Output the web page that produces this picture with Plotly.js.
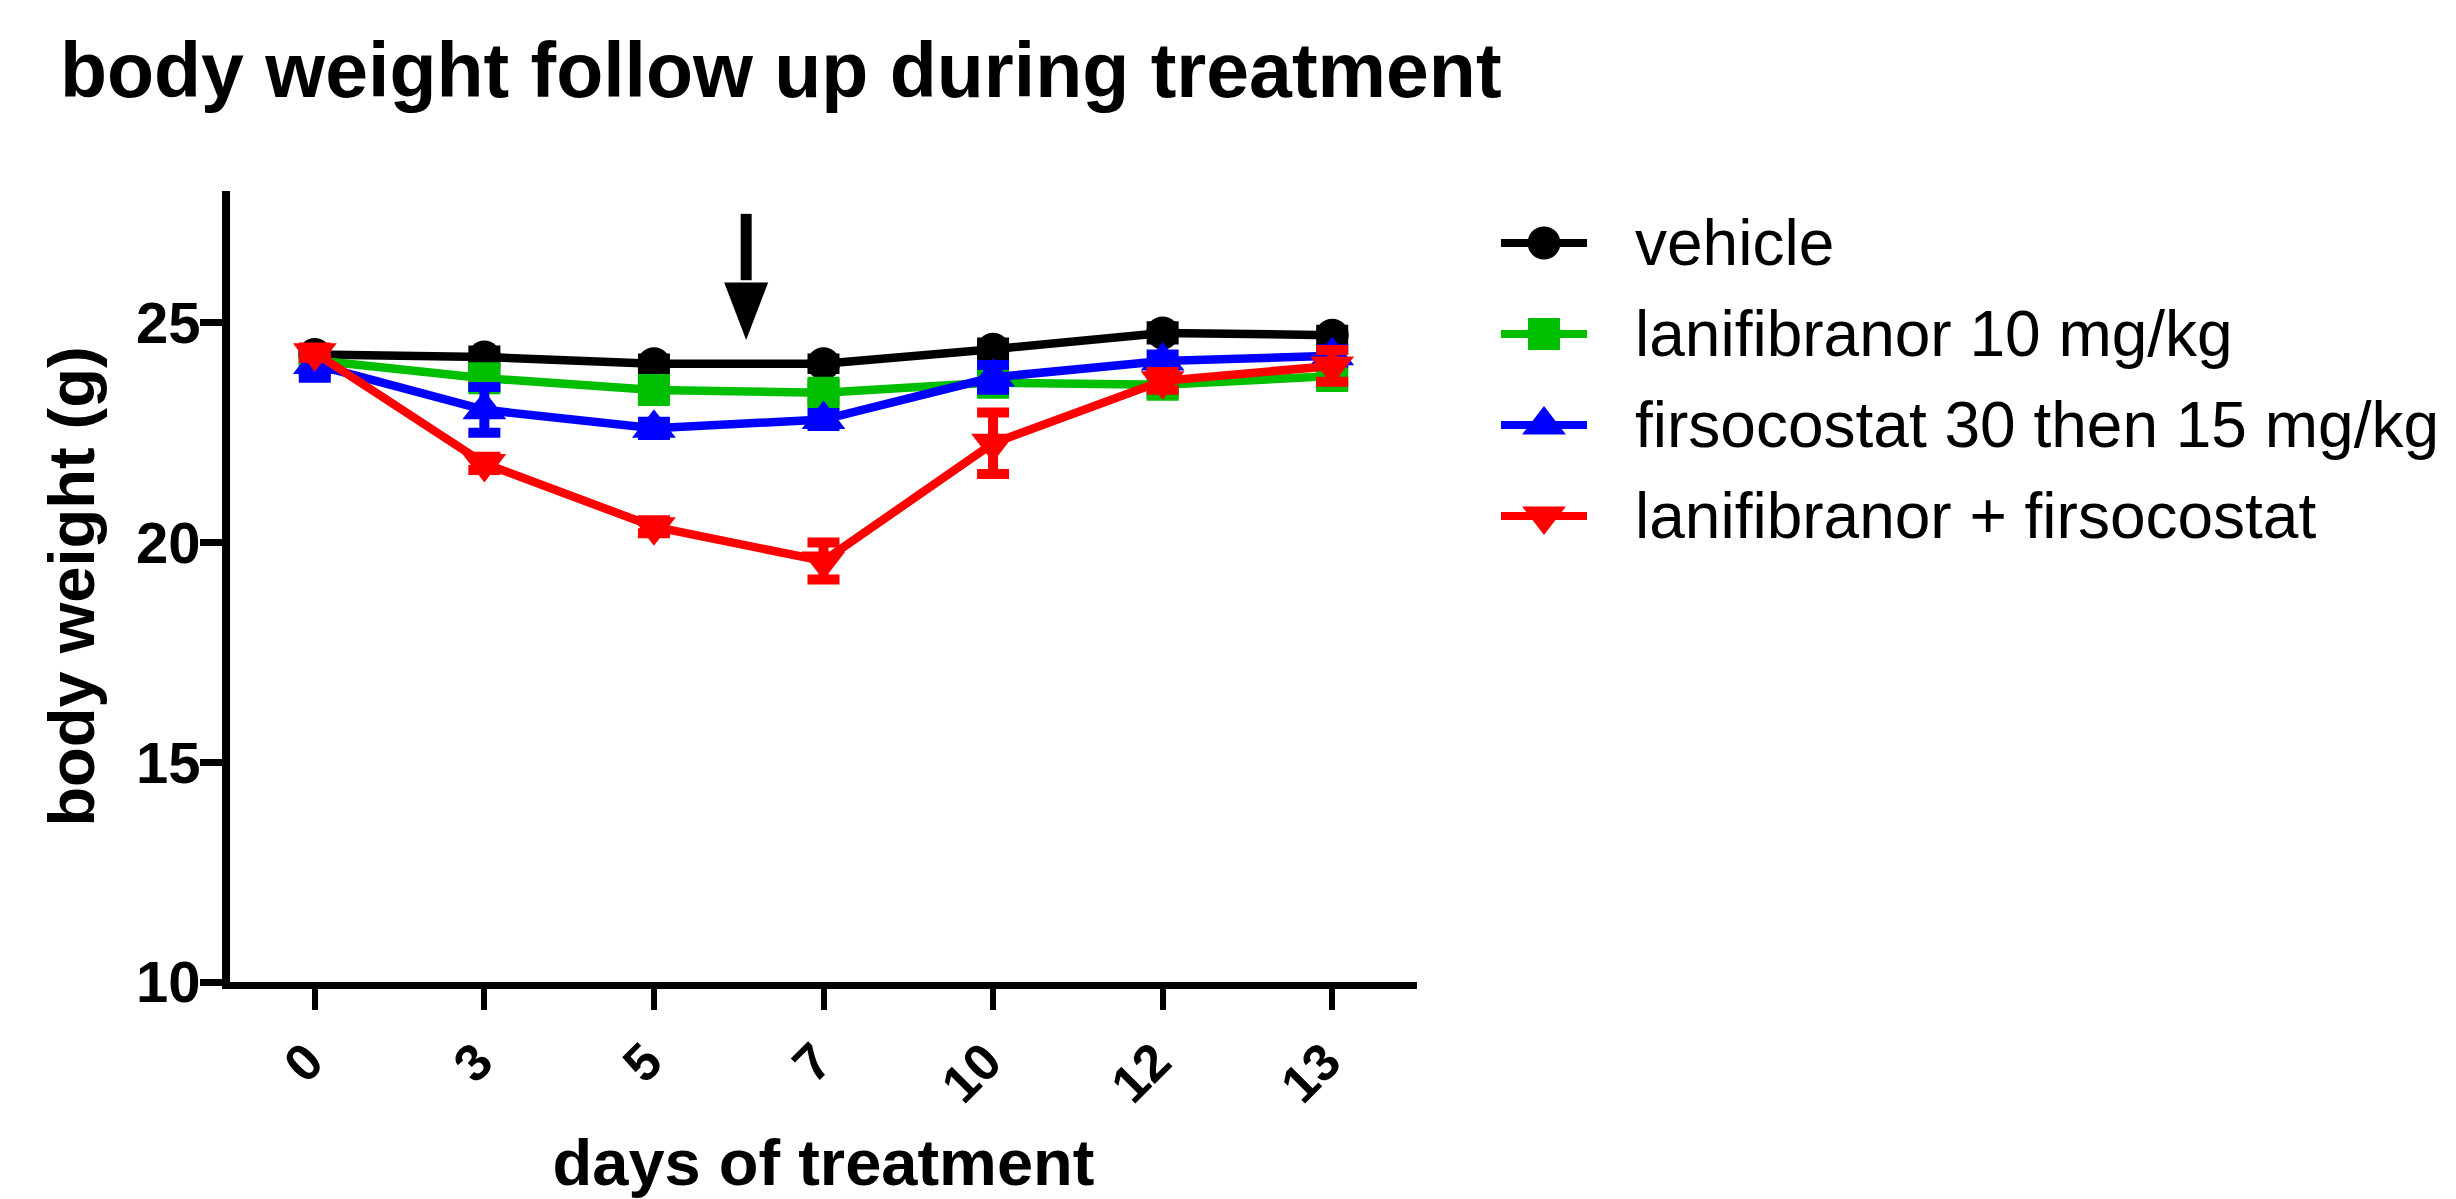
<!DOCTYPE html>
<html>
<head>
<meta charset="utf-8">
<script src="https://cdn.plot.ly/plotly-3.0.1.min.js"></script>
<style>
  html, body { margin: 0; padding: 0; background: #ffffff; }
  #chart { width: 2456px; height: 1199px; }
</style>
</head>
<body>
<div id="chart"></div>
<script>
// ---------------- data ----------------
const days = ['0', '3', '5', '7', '10', '12', '13'];

const vehicle        = [24.28, 24.22, 24.07, 24.07, 24.40, 24.77, 24.72];
const vehicleErr     = [0.10, 0.15, 0.12, 0.12, 0.15, 0.15, 0.12];

const lanifibranor    = [24.15, 23.74, 23.47, 23.41, 23.64, 23.59, 23.79];
const lanifibranorErr = [0.15, 0.20, 0.20, 0.20, 0.25, 0.20, 0.20];

const firsocostat    = [24.05, 23.02, 22.60, 22.80, 23.76, 24.13, 24.25];
const firsocostatErr = [0.30, 0.52, 0.15, 0.15, 0.28, 0.15, 0.15];

const combination    = [24.32, 21.80, 20.36, 19.58, 22.26, 23.68, 24.02];
const combinationErr = [0.12, 0.15, 0.15, 0.42, 0.70, 0.20, 0.36];

const seriesNames = ['vehicle', 'lanifibranor 10 mg/kg', 'firsocostat 30 then 15 mg/kg', 'lanifibranor + firsocostat'];
const yTicks = [10, 15, 20, 25];
const arrowAt = 2.544;          // category position of the dosing-change arrow (between day 5 and 7)
const arrowValues = { top: 27.48, headBase: 25.92, tip: 24.61 };

// ---------------- styling ----------------
const colors  = ['#000000', '#00bf00', '#0000ff', '#ff0000'];
const symbols = ['circle', 'square', 'triangle-up', 'triangle-down'];
const msizes  = [33, 32, 38, 38];
const legendSizes = [33, 32, 38, 38];
const values  = [vehicle, lanifibranor, firsocostat, combination];
const errors  = [vehicleErr, lanifibranorErr, firsocostatErr, combinationErr];

const FONT = 'Liberation Sans, Arial, sans-serif';
const W = 2456, H = 1199;
const M = { l: 230, r: 20, t: 191, b: 217 };
const paperW = W - M.l - M.r;
const mainFrac = 1187 / paperW;
const px2paperX = (px) => (px - M.l) / paperW;

const traces = [];
values.forEach((vals, i) => {
  traces.push({
    type: 'scatter',
    mode: 'lines+markers',
    x: days,
    y: vals,
    name: seriesNames[i],
    showlegend: false,
    cliponaxis: false,
    line: { color: colors[i], width: 8.5 },
    marker: { color: colors[i], symbol: symbols[i], size: msizes[i], opacity: 1, line: { width: 0 } },
    error_y: { type: 'data', array: errors[i], visible: true, color: colors[i], thickness: 10, width: 16 },
    xaxis: 'x', yaxis: 'y'
  });
});

// legend samples drawn on a hidden helper axis pair
seriesNames.forEach((nm, i) => {
  traces.push({
    type: 'scatter',
    mode: 'lines+markers',
    x: [0, 0.5, 1],
    y: [i, i, i],
    showlegend: false,
    hoverinfo: 'skip',
    cliponaxis: false,
    line: { color: colors[i], width: 8 },
    marker: { color: colors[i], symbol: symbols[i], size: [0, legendSizes[i], 0], opacity: 1, line: { width: 0 } },
    xaxis: 'x2', yaxis: 'y2'
  });
});

const annotations = seriesNames.map((nm, i) => ({
  text: nm,
  xref: 'paper', x: px2paperX(1633), xanchor: 'left',
  yref: 'y2', y: i, yanchor: 'middle',
  showarrow: false,
  font: { family: FONT, size: 64, color: '#000000' }
}));

const catToPaper = (c) => (c + 0.5) / days.length * mainFrac;
const ax = catToPaper(arrowAt);
const hw = 22 / paperW;

const shapes = [
  { type: 'line', xref: 'paper', yref: 'y', x0: ax, x1: ax, y0: arrowValues.top, y1: arrowValues.headBase + 0.05,
    line: { color: '#000000', width: 11 } },
  { type: 'path', xref: 'paper', yref: 'y',
    path: `M ${ax - hw},${arrowValues.headBase} L ${ax + hw},${arrowValues.headBase} L ${ax},${arrowValues.tip} Z`,
    fillcolor: '#000000', line: { width: 0 } }
];

const layout = {
  width: W, height: H,
  margin: M,
  paper_bgcolor: '#ffffff',
  plot_bgcolor: 'rgba(0,0,0,0)',
  showlegend: false,
  font: { family: FONT, color: '#000000' },
  title: {
    text: 'body weight follow up during treatment',
    font: { family: FONT, size: 77, weight: 'bold', color: '#000000' },
    xref: 'container', x: 60 / W, xanchor: 'left',
    yref: 'container', y: 1 - 43 / H, yanchor: 'top'
  },
  xaxis: {
    type: 'category',
    categoryorder: 'array', categoryarray: days,
    range: [-0.5, days.length - 0.5],
    domain: [0, mainFrac],
    showline: true, linecolor: '#000000', linewidth: 7,
    ticks: 'outside', ticklen: 21, tickwidth: 6, tickcolor: '#000000',
    tickangle: -45, ticklabelshift: -7,
    tickfont: { family: FONT, size: 52, weight: 'bold', color: '#000000' },
    showgrid: false, zeroline: false,
    automargin: false,
    title: { text: 'days of treatment', standoff: 40,
             font: { family: FONT, size: 65, weight: 'bold', color: '#000000' } },
    fixedrange: true
  },
  yaxis: {
    range: [10, 28],
    tickvals: yTicks,
    ticktext: yTicks.map(String),
    showline: true, linecolor: '#000000', linewidth: 8,
    ticks: 'outside', ticklen: 22, tickwidth: 7, tickcolor: '#000000', ticklabelstandoff: -12,
    tickfont: { family: FONT, size: 58, weight: 'bold', color: '#000000' },
    showgrid: false, zeroline: false,
    automargin: false,
    title: { text: 'body weight (g)', standoff: 23,
             font: { family: FONT, size: 65, weight: 'bold', color: '#000000' } },
    fixedrange: true
  },
  xaxis2: {
    domain: [px2paperX(1501), px2paperX(1587)],
    range: [0, 1], visible: false, fixedrange: true, anchor: 'y2'
  },
  yaxis2: {
    domain: [0.5, 1],
    range: [3.775, -0.571], visible: false, fixedrange: true, anchor: 'x2'
  },
  annotations: annotations,
  shapes: shapes
};

Plotly.newPlot('chart', traces, layout, { displayModeBar: false, staticPlot: true });
</script>
</body>
</html>
